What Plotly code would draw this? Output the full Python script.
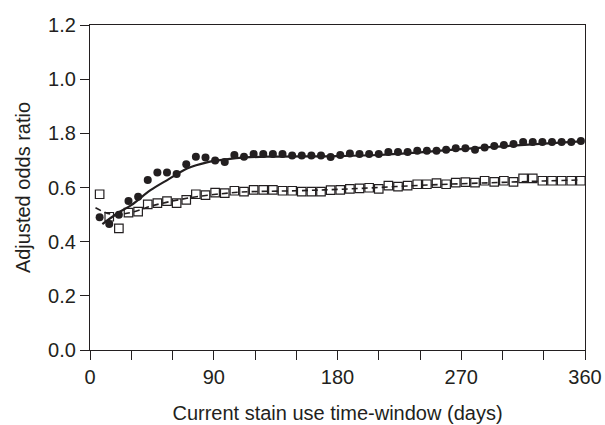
import plotly.graph_objects as go

days = [7 * k for k in range(1, 52)]

filled_or = [0.490, 0.465, 0.499, 0.550, 0.566, 0.628, 0.655, 0.655, 0.650, 0.686,
             0.714, 0.711, 0.700, 0.694, 0.720, 0.714, 0.724, 0.724, 0.724, 0.724,
             0.718, 0.718, 0.718, 0.718, 0.713, 0.720, 0.726, 0.724, 0.724, 0.724,
             0.731, 0.731, 0.731, 0.736, 0.736, 0.736, 0.739, 0.745, 0.745, 0.739,
             0.748, 0.753, 0.757, 0.761, 0.768, 0.768, 0.768, 0.768, 0.768, 0.768,
             0.772]

open_or = [0.575, 0.492, 0.449, 0.507, 0.511, 0.538, 0.542, 0.550, 0.542, 0.554,
           0.575, 0.572, 0.581, 0.579, 0.588, 0.585, 0.591, 0.591, 0.591, 0.588,
           0.588, 0.585, 0.585, 0.585, 0.590, 0.591, 0.595, 0.597, 0.599, 0.595,
           0.607, 0.603, 0.607, 0.612, 0.612, 0.616, 0.612, 0.618, 0.620, 0.618,
           0.625, 0.621, 0.625, 0.621, 0.634, 0.634, 0.625, 0.625, 0.625, 0.625,
           0.625]

solid_fit_days = [9, 20, 30, 44, 57, 71, 85, 99, 113, 130, 180, 210, 240, 270, 300, 330, 357]
solid_fit = [0.465, 0.505, 0.535, 0.590, 0.630, 0.671, 0.693, 0.704, 0.711, 0.714,
             0.716, 0.720, 0.730, 0.742, 0.752, 0.762, 0.770]

dash_fit_days = [4, 10, 17, 25, 35, 45, 60, 75, 90, 110, 150, 180, 210, 240, 270, 300, 330, 357]
dash_fit = [0.525, 0.510, 0.500, 0.503, 0.515, 0.532, 0.550, 0.564, 0.574, 0.583,
            0.588, 0.593, 0.600, 0.608, 0.614, 0.619, 0.624, 0.628]

x_tickvals = list(range(0, 361, 30))
x_ticktext = [str(v) if v % 90 == 0 else "" for v in x_tickvals]
y_tickvals = [0.0, 0.2, 0.4, 0.6, 0.8, 1.0, 1.2]
y_ticktext = ["0.0", "0.2", "0.4", "0.6", "1.8", "1.0", "1.2"]

ink = "#231f20"
font_family = "Liberation Sans, Arial, sans-serif"

fig = go.Figure()
fig.add_trace(go.Scatter(x=dash_fit_days, y=dash_fit, mode="lines",
                         line=dict(color=ink, width=1.6, dash="6px,4px", shape="spline"),
                         showlegend=False, hoverinfo="skip"))
fig.add_trace(go.Scatter(x=solid_fit_days, y=solid_fit, mode="lines",
                         line=dict(color=ink, width=2.2, shape="spline"),
                         showlegend=False, hoverinfo="skip"))
fig.add_trace(go.Scatter(x=days, y=open_or, mode="markers",
                         marker=dict(symbol="square-open", size=8.5, color=ink,
                                     line=dict(width=1.2, color=ink)),
                         showlegend=False, cliponaxis=False))
fig.add_trace(go.Scatter(x=days, y=filled_or, mode="markers",
                         marker=dict(symbol="circle", size=8, color=ink),
                         showlegend=False, cliponaxis=False))

axis_common = dict(showline=True, linecolor=ink, linewidth=1.3, mirror=True,
                   ticks="outside", ticklen=9, tickwidth=1.2, tickcolor=ink,
                   showgrid=False, zeroline=False, automargin=False,
                   tickfont=dict(family=font_family, size=20, color=ink))

fig.update_xaxes(range=[0, 360], tickmode="array", tickvals=x_tickvals, ticktext=x_ticktext,
                 title=dict(text="Current stain use time-window (days)",
                            font=dict(family=font_family, size=20, color=ink),
                            standoff=18),
                 **axis_common)
fig.update_yaxes(range=[0, 1.2], tickmode="array", tickvals=y_tickvals, ticktext=y_ticktext,
                 title=dict(text="Adjusted odds ratio",
                            font=dict(family=font_family, size=20, color=ink),
                            standoff=12),
                 **axis_common)

fig.update_layout(width=605, height=425, margin=dict(l=90, r=20, t=25, b=75),
                  paper_bgcolor="white", plot_bgcolor="white")

fig.write_html("out.html")
